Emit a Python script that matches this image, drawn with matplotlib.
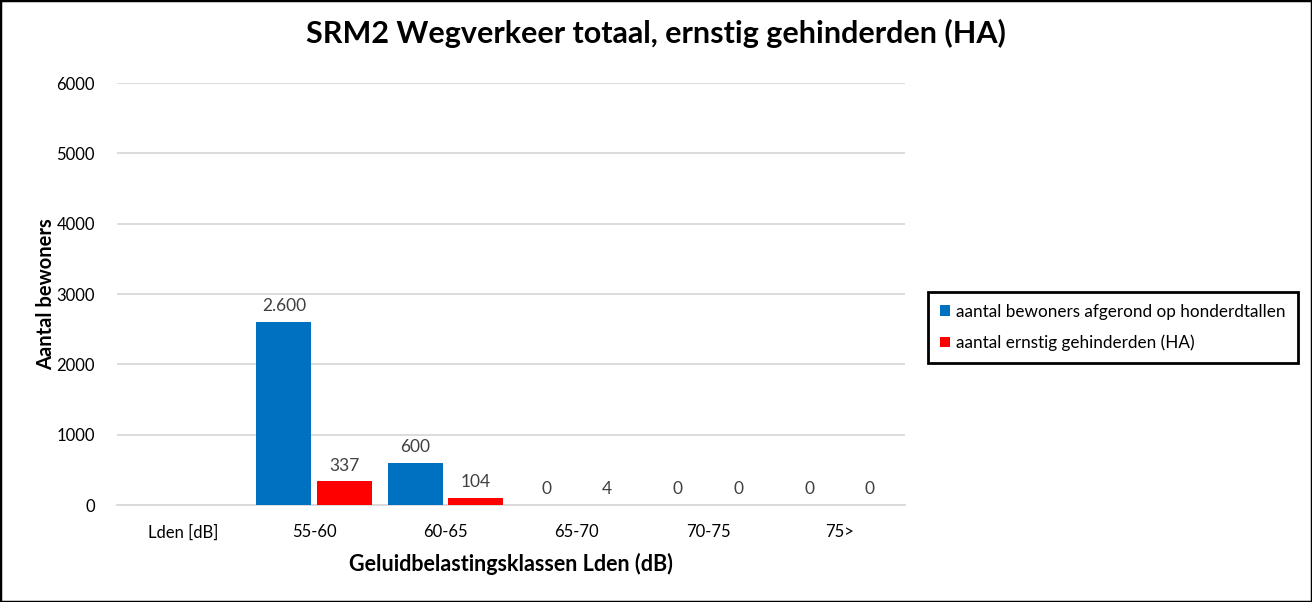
import numpy as np
import matplotlib.pyplot as plt
from matplotlib.patches import Rectangle

plt.rcParams['font.family'] = ['Lato', 'DejaVu Sans']

categories = ["Lden [dB]", "55-60", "60-65", "65-70", "70-75", "75>"]
bewoners = [None, 2600, 600, 0, 0, 0]
gehinderd = [None, 337, 104, 4, 0, 0]
bewoners_labels = ["", "2.600", "600", "0", "0", "0"]
gehinderd_labels = ["", "337", "104", "4", "0", "0"]

BLUE = "#0070c0"
RED = "#ff0000"
GRID = "#d9d9d9"
TXT = "#404040"

fig = plt.figure(figsize=(13.12, 6.02), dpi=100)
ax = fig.add_axes([0.0892, 0.1611, 0.6006, 0.7010])

x = np.arange(len(categories))
w = 0.42
off = 0.23
b_vals = [v if v is not None else 0 for v in bewoners]
g_vals = [v if v is not None else 0 for v in gehinderd]
ax.bar(x - off, b_vals, width=w, color=BLUE, label="aantal bewoners afgerond op honderdtallen", zorder=3)
ax.bar(x + off, g_vals, width=w, color=RED, label="aantal ernstig gehinderden (HA)", zorder=3)

for i in range(len(categories)):
    if bewoners_labels[i]:
        ax.text(x[i] - off, b_vals[i] + 110, bewoners_labels[i], ha="center", va="bottom",
                fontsize=12.5, color=TXT)
    if gehinderd_labels[i]:
        ax.text(x[i] + off, g_vals[i] + 110, gehinderd_labels[i], ha="center", va="bottom",
                fontsize=12.5, color=TXT)

ax.set_xlim(-0.5, len(categories) - 0.5)
ax.set_ylim(0, 6000)
ax.set_yticks(range(0, 6001, 1000))
ax.set_xticks(x)
ax.set_xticklabels(categories)
ax.yaxis.grid(True, color=GRID, linewidth=1.3, zorder=0)
for s in ["top", "right", "left"]:
    ax.spines[s].set_visible(False)
ax.spines["bottom"].set_color(GRID)
ax.spines["bottom"].set_linewidth(1.3)
ax.tick_params(axis="both", length=0, labelsize=12, colors="black")
ax.tick_params(axis="x", pad=14)
ax.tick_params(axis="y", pad=16)

ax.set_xlabel("Geluidbelastingsklassen Lden (dB)", fontsize=15.5, fontweight="bold", labelpad=9)
ax.set_ylabel("Aantal bewoners", fontsize=14.5, fontweight="bold")
ax.yaxis.set_label_coords(-0.077, 0.5)
fig.suptitle("SRM2 Wegverkeer totaal, ernstig gehinderden (HA)", x=0.5, y=0.968,
             fontsize=22, fontweight="bold")

leg = fig.legend(loc="upper left", bbox_to_anchor=(0.7073, 0.515), fontsize=12.3,
                 frameon=True, fancybox=False, edgecolor="black", framealpha=1,
                 handlelength=0.6, handleheight=0.6, handletextpad=0.35,
                 labelspacing=0.85, borderpad=0.7, borderaxespad=0)
leg.get_frame().set_linewidth(2)

fig.patches.append(Rectangle((0, 0), 1, 1, transform=fig.transFigure, fill=False,
                             edgecolor="black", linewidth=2.5))

fig.savefig("out.png", dpi=100)
